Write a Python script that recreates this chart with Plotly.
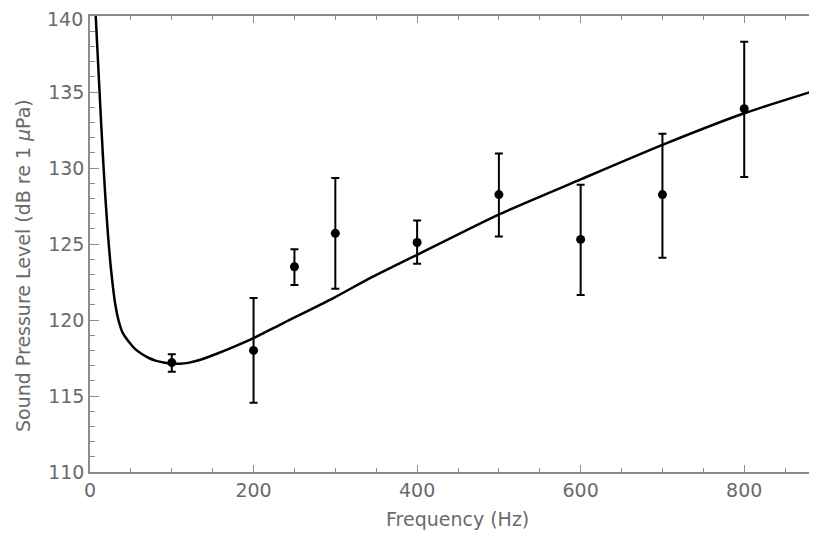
import plotly.graph_objects as go

# Measured data points (Hz, dB re 1 uPa) with error bar half-widths
freq = [100, 200, 250, 300, 400, 500, 600, 700, 800]
spl = [117.2, 118.0, 123.5, 125.7, 125.1, 128.25, 125.3, 128.25, 133.9]
err_plus = [0.55, 3.45, 1.15, 3.65, 1.45, 2.7, 3.6, 4.0, 4.4]
err_minus = [0.6, 3.45, 1.2, 3.65, 1.4, 2.75, 3.65, 4.15, 4.5]

# Fitted curve
curve_x = [6.3, 7, 10, 13, 16, 19, 22, 25, 28, 31, 35, 40, 47, 55, 63, 72, 80, 90, 100,
           110, 120, 135, 155, 175, 200, 236.5, 297.6, 338.4, 379.2, 400, 499, 600, 700, 800, 889]
curve_y = [140.8, 140, 136.8, 133.6, 130.6, 127.9, 125.6, 123.7, 122.2, 121.0, 119.95, 119.15,
           118.6, 118.1, 117.78, 117.5, 117.33, 117.2, 117.13,
           117.12, 117.18, 117.38, 117.78, 118.22, 118.81, 119.8, 121.44, 122.64, 123.74,
           124.29, 126.92, 129.25, 131.52, 133.6, 135.13]

x_ticks = [0, 200, 400, 600, 800]
y_ticks = [110, 115, 120, 125, 130, 135, 140]
y_ticktext = ["110", "115", "120", "125", "130", "135", ""]  # top label drawn separately
y_top_label = "140"

FONT = "DejaVu Sans"
TXT = "#6a6a6a"
AX = "#8c8c8c"

fig = go.Figure()
fig.add_trace(go.Scatter(
    x=curve_x, y=curve_y, mode="lines",
    line=dict(color="black", width=2.5, shape="spline", smoothing=0.6),
    hoverinfo="skip", showlegend=False))
fig.add_trace(go.Scatter(
    x=freq, y=spl, mode="markers",
    marker=dict(color="black", size=9),
    error_y=dict(type="data", array=err_plus, arrayminus=err_minus,
                 color="black", thickness=2, width=4),
    showlegend=False))

# page body has an 8px default margin, so the figure is sized to fit the window
fig.update_layout(
    width=809, height=527,
    margin=dict(l=82, r=0, t=8, b=63),
    paper_bgcolor="white", plot_bgcolor="white",
    font=dict(family=FONT, size=19, color=TXT),
    xaxis=dict(range=[0, 889], tickvals=x_ticks, ticks="inside", ticklen=7,
               tickwidth=1.3, tickcolor=AX, showline=True, linecolor=AX, linewidth=1.5,
               mirror="ticks", showgrid=False, zeroline=False, automargin=False,
               ticklabeloverflow="allow",
               minor=dict(dtick=50, ticks="inside", ticklen=4, tickcolor=AX, tickwidth=1.2),
               tickfont=dict(family=FONT, size=19, color=TXT)),
    yaxis=dict(range=[110, 140], tickvals=y_ticks, ticktext=y_ticktext, ticks="inside", ticklen=9,
               tickwidth=1.3, tickcolor=AX, showline=True, linecolor=AX, linewidth=1.5,
               showgrid=False, zeroline=False, automargin=False,
               ticklabeloverflow="allow",
               minor=dict(dtick=1, ticks="inside", ticklen=5, tickcolor=AX, tickwidth=1.2),
               tickfont=dict(family=FONT, size=19, color=TXT)),
    annotations=[
        dict(text=y_top_label, xref="paper", yref="y", x=0, y=y_ticks[-1],
             xanchor="right", yanchor="middle", xshift=-5, yshift=-3, showarrow=False,
             font=dict(family=FONT, size=19, color=TXT)),
        dict(text="Frequency (Hz)", xref="paper", yref="paper", x=0.506, y=-0.102,
             xanchor="center", yanchor="middle", showarrow=False,
             font=dict(family=FONT, size=19, color=TXT)),
        dict(text="Sound Pressure Level (dB re 1 <i>\u03bc</i>Pa)", xref="paper", yref="paper",
             x=-0.092, y=0.452, xanchor="center", yanchor="middle", textangle=-90,
             showarrow=False, font=dict(family=FONT, size=19, color=TXT)),
    ],
)

fig.write_html("out.html")
